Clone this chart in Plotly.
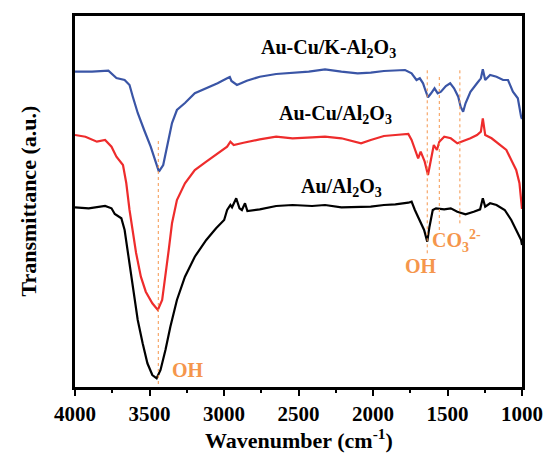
import plotly.graph_objects as go

# ---- data (wavenumber, transmittance in arbitrary units) ----
blue_wn = [4000, 3886, 3776, 3744, 3722, 3667, 3634, 3612, 3579, 3536, 3492, 3459, 3437, 3408,
           3382, 3349, 3316, 3262, 3196, 3119, 3043, 2979, 2961, 2950, 2913, 2847, 2760, 2650,
           2540, 2431, 2322, 2212, 2103, 2015, 1927, 1872, 1785, 1741, 1708, 1686, 1664, 1649,
           1631, 1610, 1587, 1566, 1544, 1511, 1482, 1456, 1428, 1412, 1395, 1379, 1346, 1302,
           1276, 1263, 1247, 1214, 1171, 1127, 1094, 1061, 1028, 1006, 1000]
blue_t = [315.3, 315.3, 316.3, 312, 309, 307, 302, 290.3, 274, 257, 240.3, 225.3, 215.3, 222,
          240.3, 264, 277, 284, 293.7, 298.7, 303.7, 308.7, 310, 306, 302, 306.3, 310.3, 313,
          314.3, 315.3, 317.7, 315.3, 313.7, 314.3, 316, 316.3, 317, 313.7, 307, 308.7, 303.7, 297,
          289.7, 293.7, 298.7, 293.7, 295.3, 301, 303.7, 298.7, 290.3, 280.3, 275.3, 283.7, 295.3, 303.7,
          308.7, 317.7, 307, 312, 310.3, 307, 307, 295.3, 288.7, 270.3, 268]

red_wn = [4000, 3930, 3853, 3798, 3755, 3722, 3678, 3656, 3634, 3612, 3590, 3558, 3525, 3481,
          3444, 3415, 3393, 3371, 3349, 3316, 3262, 3196, 3119, 3043, 2979, 2957, 2935, 2869,
          2760, 2650, 2540, 2409, 2322, 2212, 2080, 2015, 1927, 1850, 1763, 1741, 1715, 1697,
          1680, 1653, 1631, 1614, 1592, 1571, 1555, 1522, 1478, 1434, 1401, 1346, 1302, 1276,
          1263, 1247, 1204, 1149, 1105, 1072, 1039, 1017, 1006, 1000]
red_t = [252, 250.3, 245.3, 247, 240.3, 230.3, 222, 204, 177, 157, 134, 110.3, 95.3, 83.7,
         77, 87, 110.3, 137, 163.7, 187, 203.7, 217, 225.3, 233.7, 240.3, 245.3, 242, 244.3,
         247.7, 250.3, 248.7, 249.7, 250.3, 248.7, 243.7, 247, 251, 252, 253, 247, 237, 228.7,
         235.3, 225.3, 212, 227, 242, 237, 245.3, 250.3, 248.7, 243.7, 245.3, 248.7, 252, 255.3,
         268.7, 252, 248.7, 242, 237, 227, 217, 203.7, 183.7, 178]

black_wn = [4000, 3908, 3798, 3755, 3733, 3689, 3667, 3645, 3623, 3601, 3579, 3546, 3514, 3481,
            3452, 3426, 3393, 3360, 3316, 3262, 3196, 3119, 3053, 2999, 2979, 2957, 2946, 2918,
            2896, 2880, 2859, 2843, 2760, 2650, 2540, 2409, 2322, 2212, 2103, 2015, 1927, 1850,
            1763, 1741, 1719, 1686, 1657, 1636, 1621, 1599, 1577, 1522, 1478, 1434, 1379, 1324,
            1281, 1263, 1247, 1214, 1171, 1116, 1072, 1039, 1006, 1000]
black_t = [179.7, 178.7, 181, 178.7, 173, 168.7, 157, 133.7, 110.3, 87, 67, 43.7, 23.7, 12,
           8.7, 17, 37, 60.3, 87, 110.3, 130.3, 147, 158.7, 167, 177, 182, 179.7, 188.7,
           178.7, 177, 183.7, 176, 177.7, 181, 182, 181, 182, 179.7, 179.7, 180.3, 182, 182.7,
           184.3, 185.3, 177, 167, 157, 145.3, 160.3, 177, 178.7, 177.7, 178.7, 175.3, 172.7, 175.3,
           177.7, 188.7, 180.3, 183.7, 182, 177, 167, 157, 147, 142]

series_names = ["Au-Cu/K-Al<sub>2</sub>O<sub>3</sub>", "Au-Cu/Al<sub>2</sub>O<sub>3</sub>",
                "Au/Al<sub>2</sub>O<sub>3</sub>"]
series_colors = ["#3a55a6", "#ee2c2c", "#000000"]

# marker (dashed) lines: wavenumber, top, bottom
mark_wn = [3441, 1636, 1555, 1417]
mark_top = [248.7, 317, 312, 319.7]
mark_bot = [3, 133.7, 157, 163.7]

tick_vals = [4000, 3500, 3000, 2500, 2000, 1500, 1000]

ORANGE = "#f5964c"
FONT = "Liberation Serif"

fig = go.Figure()
for wn, t, c, n in [(blue_wn, blue_t, series_colors[0], series_names[0]),
                    (red_wn, red_t, series_colors[1], series_names[1]),
                    (black_wn, black_t, series_colors[2], series_names[2])]:
    fig.add_trace(go.Scatter(x=wn, y=t, mode="lines", name=n,
                             line=dict(color=c, width=2.2), showlegend=False))

for w, t0, b0 in zip(mark_wn, mark_top, mark_bot):
    fig.add_shape(type="line", x0=w, x1=w, y0=b0, y1=t0, xref="x", yref="y",
                  line=dict(color=ORANGE, width=1, dash="dot"))

# curve labels
lab_font = dict(family=FONT, size=20, color="black")
fig.add_annotation(x=2298, y=339, text="<b>" + series_names[0] + "</b>", showarrow=False, font=lab_font)
fig.add_annotation(x=2253, y=273, text="<b>" + series_names[1] + "</b>", showarrow=False, font=lab_font)
fig.add_annotation(x=2213, y=200, text="<b>" + series_names[2] + "</b>", showarrow=False, font=lab_font)

or_font = dict(family=FONT, size=20, color=ORANGE)
fig.add_annotation(x=3245, y=17, text="<b>OH</b>", showarrow=False, font=or_font)
fig.add_annotation(x=1677, y=121, text="<b>OH</b>", showarrow=False, font=or_font)
fig.add_annotation(x=1437, y=146, text="<b>CO<sub>3</sub><sup>2-</sup></b>", showarrow=False, font=or_font)

# axis titles placed as annotations (paper coords)
fig.add_annotation(x=0.5, y=-0.14, xref="paper", yref="paper", yanchor="middle",
                   text="<b>Wavenumber (cm<sup>-1</sup>)</b>", showarrow=False,
                   font=dict(family=FONT, size=22, color="black"))
fig.add_annotation(x=-0.105, y=0.5, xref="paper", yref="paper", xanchor="center",
                   textangle=-90, text="<b>Transmittance (a.u.)</b>", showarrow=False,
                   font=dict(family=FONT, size=22, color="black"))

fig.update_layout(
    width=555, height=455,
    margin=dict(l=75, r=24, t=16, b=68),
    paper_bgcolor="white", plot_bgcolor="white",
    font=dict(family=FONT, color="black"),
    xaxis=dict(range=[4000, 1000], tickvals=tick_vals,
               ticktext=["<b>%d</b>" % v for v in tick_vals],
               tickfont=dict(family=FONT, size=21, color="black"),
               ticks="outside", ticklen=6, tickwidth=2, tickcolor="black",
               minor=dict(dtick=250, ticks="outside", ticklen=3, tickwidth=2, tickcolor="black"),
               showline=True, linecolor="black", linewidth=2.5, mirror=True,
               showgrid=False, zeroline=False),
    yaxis=dict(range=[0, 371], showticklabels=False, ticks="",
               showline=True, linecolor="black", linewidth=2.5, mirror=True,
               showgrid=False, zeroline=False),
)

fig.write_html("out.html", config={"displayModeBar": False},
               post_script="document.body.style.margin='0';"
                           "document.body.style.overflow='hidden';"
                           "document.documentElement.style.overflow='hidden';")
